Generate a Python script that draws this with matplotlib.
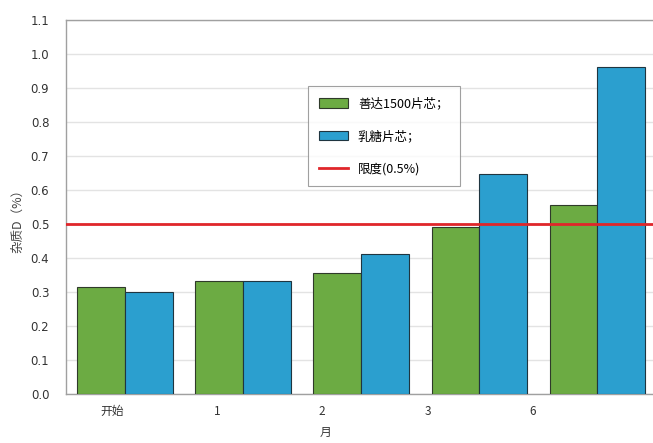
import matplotlib
matplotlib.use('Agg')
import matplotlib.pyplot as plt
import numpy as np

plt.rcParams['font.family'] = ['DejaVu Sans', 'Noto Sans CJK SC']

# impurity D (%) by month
months = ['开始', '1', '2', '3', '6']
tablet_a = [0.315, 0.332, 0.356, 0.491, 0.556]   # 善达1500片芯
lactose = [0.300, 0.332, 0.412, 0.647, 0.962]    # 乳糖片芯
limit = 0.5
series_names = ['善达1500片芯；', '乳糖片芯；', '限度(0.5%)']

green = '#6cab43'
blue = '#2b9fcf'
red = '#e0262a'
cjk = ['Noto Sans CJK SC', 'DejaVu Sans']

fig = plt.figure(figsize=(6.53, 4.43), dpi=100)
ax = fig.add_axes([66 / 653, 49 / 443, 587 / 653, 374 / 443])

x = np.arange(len(months))
w = 0.405
b1 = ax.bar(x - w / 2, tablet_a, w, color=green, edgecolor='#2f3a2a', linewidth=0.8,
            label=series_names[0], zorder=3)
b2 = ax.bar(x + w / 2, lactose, w, color=blue, edgecolor='#1f3540', linewidth=0.8,
            label=series_names[1], zorder=3)
ln = ax.axhline(limit, color=red, linewidth=2, label=series_names[2], zorder=4)

ax.set_xlim(-0.5, 4.47)
ax.set_ylim(0, 1.1)
ax.set_yticks(np.arange(0, 1.11, 0.1))
ax.set_yticklabels([f'{v:.1f}' for v in np.arange(0, 1.11, 0.1)])
ax.yaxis.grid(True, color='#e3e3e3', linewidth=1, zorder=0)
ax.set_axisbelow(True)

# month labels sit a little left of the bar groups
ax.set_xticks(x * 0.89 - 0.11)
ax.set_xticklabels(months, family=cjk)
ax.tick_params(axis='both', length=0, labelsize=8.5, colors='#333333', pad=8)
ax.tick_params(axis='y', pad=12)

for side in ['left', 'top', 'bottom']:
    ax.spines[side].set_color('#a0a0a0')
    ax.spines[side].set_linewidth(1)
ax.spines['right'].set_visible(False)

ax.set_xlabel('月', family=cjk, fontsize=8.5, color='#333333')
ax.xaxis.set_label_coords(0.442, -0.085)
ax.set_ylabel('杂质D（%）', family=cjk, fontsize=9, color='#444444')
ax.yaxis.set_label_coords(-0.072, 0.47)

leg = ax.legend([b1, b2, ln], series_names, loc='upper left',
                bbox_to_anchor=(0.412, 0.823), frameon=True,
                fancybox=False, edgecolor='#888888',
                prop={'family': cjk, 'size': 9},
                handlelength=2.3, handleheight=0.8, labelspacing=1.55,
                borderpad=0.9, handletextpad=0.8, borderaxespad=0)
leg.get_frame().set_linewidth(0.8)

fig.savefig('out.png', dpi=100)
